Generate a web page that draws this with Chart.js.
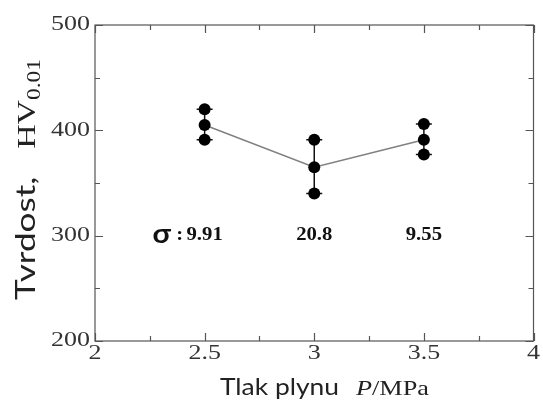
<!DOCTYPE html>
<html>
<head>
<meta charset="utf-8">
<script src="https://cdn.jsdelivr.net/npm/chart.js@4.4.0/dist/chart.umd.min.js"></script>
<style>
  html, body { margin: 0; padding: 0; background: #fff; }
</style>
</head>
<body>
<canvas id="chart" width="543" height="401"></canvas>
<script>
// gas pressure (MPa) vs. hardness HV0.01, three measurements per pressure
const pressures = [2.5, 3.0, 3.5];
const hvMax = [420, 391, 406];
const hvMid = [405, 365, 391];
const hvMin = [391, 340, 377];
const sigmaValues = ['9.91', '20.8', '9.55'];
const sigmaLevel = 300;
const xTicks = [2, 2.5, 3, 3.5, 4];
const yTicks = [200, 300, 400, 500];

// draws text widened along its baseline by factor sx
function wideText(ctx, text, x, y, font, align, sx) {
  ctx.save();
  ctx.font = font;
  const w = ctx.measureText(text).width * sx;
  let left = x;
  if (align === 'center') left = x - w / 2;
  else if (align === 'right') left = x - w;
  ctx.translate(left, y);
  ctx.scale(sx, 1);
  ctx.textAlign = 'left';
  ctx.fillText(text, 0, 0);
  ctx.restore();
  return w;
}

const framePlugin = {
  id: 'frame',
  beforeDatasetsDraw(chart) {
    const { ctx, chartArea: a, scales: { x, y } } = chart;
    ctx.save();
    ctx.strokeStyle = '#555';
    ctx.lineWidth = 1.2;
    ctx.strokeRect(a.left, a.top, a.right - a.left, a.bottom - a.top);

    // inward ticks on all four sides
    ctx.beginPath();
    for (let v = x.min; v <= x.max + 1e-9; v += 0.25) {
      const px = Math.round(x.getPixelForValue(v)) + 0.5;
      const len = Math.abs(v * 2 - Math.round(v * 2)) < 1e-6 ? 8 : 5;
      ctx.moveTo(px, a.bottom); ctx.lineTo(px, a.bottom - len);
      ctx.moveTo(px, a.top); ctx.lineTo(px, a.top + len);
    }
    for (let v = y.min; v <= y.max; v += 50) {
      const py = Math.round(y.getPixelForValue(v)) + 0.5;
      const len = v % 100 === 0 ? 8 : 5;
      ctx.moveTo(a.left, py); ctx.lineTo(a.left + len, py);
      ctx.moveTo(a.right, py); ctx.lineTo(a.right - len, py);
    }
    ctx.stroke();

    ctx.fillStyle = '#333';
    ctx.textBaseline = 'middle';
    const tickFont = '20px "Liberation Serif"';
    xTicks.forEach(v => wideText(ctx, String(v), x.getPixelForValue(v), a.bottom + 13, tickFont, 'center', 1.3));
    yTicks.forEach(v => wideText(ctx, String(v), a.left - 5, y.getPixelForValue(v), tickFont, 'right', 1.3));
    ctx.restore();
  },
  afterDraw(chart) {
    const { ctx, scales: { x, y } } = chart;
    ctx.save();
    ctx.fillStyle = '#222';

    // x axis title
    ctx.textBaseline = 'alphabetic';
    let cx = 220;
    const by = 395;
    cx += wideText(ctx, 'Tlak plynu', cx, by, '24px Lato', 'left', 1.1);
    cx += 17;
    cx += wideText(ctx, 'P', cx, by, 'italic 21px "Liberation Serif"', 'left', 1.25);
    wideText(ctx, '/MPa', cx, by, '21px "Liberation Serif"', 'left', 1.25);

    // y axis title, rotated
    ctx.save();
    ctx.translate(35, 300);
    ctx.rotate(-Math.PI / 2);
    let ty = 0;
    ty += wideText(ctx, 'Tvrdost,', ty, 0, '27px Lato', 'left', 1.3);
    ty += 28;
    ty += wideText(ctx, 'HV', ty, 0, '26px "Liberation Serif"', 'left', 1.3);
    wideText(ctx, '0.01', ty, 5, '18px "Liberation Serif"', 'left', 1.3);
    ctx.restore();

    // standard deviation labels
    ctx.fillStyle = '#111';
    ctx.textBaseline = 'middle';
    const sy = y.getPixelForValue(sigmaLevel);
    pressures.forEach((p, i) => {
      wideText(ctx, sigmaValues[i], x.getPixelForValue(p), sy, 'bold 18px "Liberation Serif"', 'center', 1.15);
    });
    const first = x.getPixelForValue(pressures[0]);
    wideText(ctx, ':', first - 25, sy, 'bold 18px "Liberation Serif"', 'center', 1.15);
    wideText(ctx, 'σ', first - 43, sy - 1, 'bold 26px Lato', 'center', 1.15);
    ctx.restore();
  }
};

const meanLine = {
  data: pressures.map((p, i) => ({ x: p, y: hvMid[i] })),
  showLine: true,
  borderColor: '#808080',
  borderWidth: 1.5,
  pointRadius: 0,
  order: 3
};

const errorBars = pressures.map((p, i) => ({
  data: [{ x: p, y: hvMin[i] }, { x: p, y: hvMax[i] }],
  showLine: true,
  borderColor: '#111',
  borderWidth: 1.5,
  pointStyle: 'line',
  pointRadius: 8,
  pointBorderWidth: 1.5,
  pointBorderColor: '#111',
  order: 2
}));

const dots = {
  data: pressures.flatMap((p, i) => [
    { x: p, y: hvMax[i] }, { x: p, y: hvMid[i] }, { x: p, y: hvMin[i] }
  ]),
  showLine: false,
  pointRadius: 6,
  pointBackgroundColor: '#000',
  pointBorderColor: '#000',
  pointBorderWidth: 0,
  order: 1
};

new Chart(document.getElementById('chart'), {
  type: 'scatter',
  data: { datasets: [meanLine, ...errorBars, dots] },
  options: {
    responsive: false,
    devicePixelRatio: 1,
    animation: false,
    layout: { padding: { left: 95, right: 6, top: 25, bottom: 60 } },
    plugins: { legend: { display: false }, tooltip: { enabled: false } },
    scales: {
      x: { type: 'linear', min: 2, max: 4, display: false },
      y: { min: 200, max: 500, display: false }
    }
  },
  plugins: [framePlugin]
});
</script>
</body>
</html>
